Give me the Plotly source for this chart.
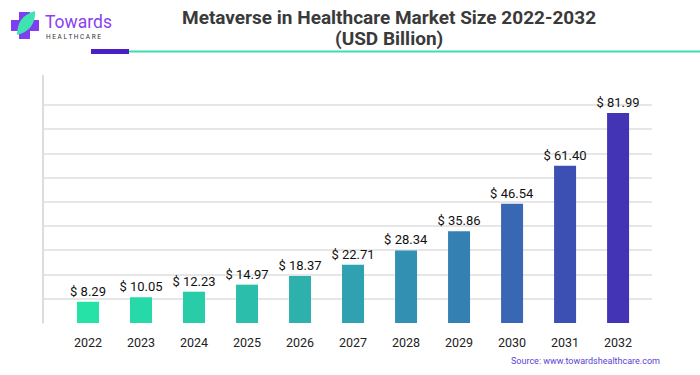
import plotly.graph_objects as go

years = ["2022", "2023", "2024", "2025", "2026", "2027", "2028", "2029", "2030", "2031", "2032"]
values = [8.29, 10.05, 12.23, 14.97, 18.37, 22.71, 28.34, 35.86, 46.54, 61.40, 81.99]
labels = ["$ 8.29", "$ 10.05", "$ 12.23", "$ 14.97", "$ 18.37", "$ 22.71",
          "$ 28.34", "$ 35.86", "$ 46.54", "$ 61.40", "$ 81.99"]
colors = ["#27e2a6", "#27d9a8", "#29cca9", "#2bbeab", "#2eb0ad", "#30a1b0",
          "#3291b2", "#3480b3", "#3868b4", "#3c50b4", "#4334b5"]

W, H = 700, 375
L, R, T, B = 43, 48, 81, 52
pw, ph = W - L - R, H - T - B


def px(x):
    return (x - L) / pw


def py(y):
    return (H - B - y) / ph


ymax = 94.5
grid = [i * ymax / 10 for i in range(11)]

fig = go.Figure(go.Bar(
    x=years, y=values, text=labels, textposition="outside", constraintext="none",
    marker=dict(color=colors, line=dict(width=0)),
    textfont=dict(family="Roboto, Arial, sans-serif", size=13, color="#111111"),
    cliponaxis=False, width=0.415, hoverinfo="skip",
))

fig.update_layout(
    width=W, height=H,
    margin=dict(l=L, r=R, t=T, b=B, pad=0),
    paper_bgcolor="white", plot_bgcolor="white",
    showlegend=False,
    xaxis=dict(range=[-0.849, 10.64], showgrid=False, showline=False, zeroline=False,
               ticks="", ticklabelstandoff=10,
               tickfont=dict(family="Roboto, Arial, sans-serif", size=12.5, color="#222222")),
    yaxis=dict(range=[0, ymax], tickvals=grid, showticklabels=False, showgrid=True,
               gridcolor="#e6e6e6", gridwidth=1.5, zeroline=False, showline=False),
)

shapes = []
# left axis line
shapes.append(dict(type="line", xref="paper", yref="paper", x0=px(43), x1=px(43), y0=py(75), y1=py(323.5),
                   line=dict(color="#dddddd", width=2)))
# header lines
shapes.append(dict(type="line", xref="paper", yref="paper", x0=px(129), x1=px(700), y0=py(51.5), y1=py(51.5),
                   line=dict(color="#3ddbb0", width=2)))
shapes.append(dict(type="rect", xref="paper", yref="paper", x0=px(91), x1=px(129), y0=py(49), y1=py(54),
                   fillcolor="#4a1fc4", line=dict(width=0)))
# logo cross
shapes.append(dict(type="rect", xref="paper", yref="paper", x0=px(19), x1=px(30), y0=py(12), y1=py(39),
                   fillcolor="#7d3ff0", line=dict(width=0)))
shapes.append(dict(type="rect", xref="paper", yref="paper", x0=px(11), x1=px(39), y0=py(20), y1=py(31),
                   fillcolor="#7d3ff0", line=dict(width=0)))
# leaf
path = "M {},{} Q {},{} {},{} Q {},{} {},{} Z".format(px(17), py(35), px(17), py(16), px(35), py(11),
                                                         px(36), py(30), px(17), py(35))
shapes.append(dict(type="path", xref="paper", yref="paper", path=path,
                   fillcolor="#3ee3b0", line=dict(width=0)))
fig.update_layout(shapes=shapes)

tfont = dict(family="Roboto, Arial, sans-serif", size=19, color="#3a3a3a")
ann = []
ann.append(dict(text="<b>Metaverse in Healthcare Market Size 2022-2032</b>",
                xref="paper", yref="paper", x=px(389), y=py(17), xanchor="center", yanchor="middle",
                showarrow=False, font=tfont))
ann.append(dict(text="<b>(USD Billion)</b>",
                xref="paper", yref="paper", x=px(389), y=py(38.5), xanchor="center", yanchor="middle",
                showarrow=False, font=tfont))
ann.append(dict(text="Towards", xref="paper", yref="paper", x=px(43), y=py(22), xanchor="left", yanchor="middle",
                showarrow=False, font=dict(family="Roboto, Arial, sans-serif", size=17.5, color="#8a3ff2")))
ann.append(dict(text="H E A L T H C A R E", xref="paper", yref="paper", x=px(44), y=py(36.5), xanchor="left",
                yanchor="middle", showarrow=False,
                font=dict(family="Roboto, Arial, sans-serif", size=6.5, color="#333333")))
ann.append(dict(text="Source: www.towardshealthcare.com", xref="paper", yref="paper", x=px(509), y=py(361),
                xanchor="left", yanchor="middle", showarrow=False,
                font=dict(family="Roboto, Arial, sans-serif", size=9, color="#5b3fd6")))
fig.update_layout(annotations=ann)

fig.write_html("out.html", config={"displayModeBar": False},
               post_script="document.body.style.margin='0';")
